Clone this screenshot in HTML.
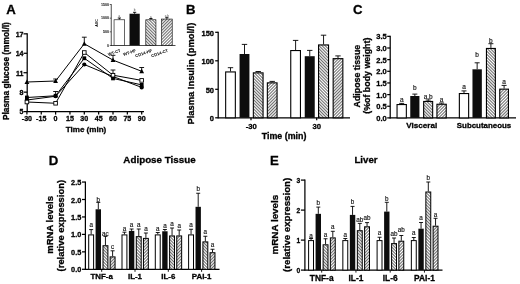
<!DOCTYPE html>
<html><head><meta charset="utf-8"><title>Figure</title>
<style>
html,body{margin:0;padding:0;background:#fff;}
body{width:520px;height:284px;overflow:hidden;}
svg{display:block;}
svg text{font-family:"Liberation Sans",Arial,sans-serif;}
svg text.b{stroke:#000;stroke-width:0.3px;}
</style></head><body>
<svg width="520" height="284" viewBox="0 0 520 284">
<defs>
<pattern id="h1" width="1.05" height="1.05" patternUnits="userSpaceOnUse" patternTransform="rotate(45)">
<rect width="1.05" height="1.05" fill="#fff"/><rect width="1.05" height="0.3" fill="#000"/></pattern>
<pattern id="h2" width="1.05" height="1.05" patternUnits="userSpaceOnUse" patternTransform="rotate(-45)">
<rect width="1.05" height="1.05" fill="#fff"/><rect width="1.05" height="0.3" fill="#000"/></pattern>
<filter id="soft" x="0" y="0" width="100%" height="100%"><feGaussianBlur stdDeviation="0.45"/></filter>
</defs>
<rect width="520" height="284" fill="#fff"/>
<g filter="url(#soft)">
<text x="6.20" y="14.03" font-size="13.2" font-weight="bold" text-anchor="start" fill="#000" class="b">A</text>
<text x="186.00" y="14.03" font-size="13.2" font-weight="bold" text-anchor="start" fill="#000" class="b">B</text>
<text x="353.00" y="14.23" font-size="13.2" font-weight="bold" text-anchor="start" fill="#000" class="b">C</text>
<text x="48.80" y="165.33" font-size="13.2" font-weight="bold" text-anchor="start" fill="#000" class="b">D</text>
<text x="270.00" y="164.73" font-size="13.2" font-weight="bold" text-anchor="start" fill="#000" class="b">E</text>
<line x1="27.20" y1="33.34" x2="27.20" y2="112.10" stroke="#000" stroke-width="1.25"/>
<line x1="26.70" y1="111.60" x2="144.00" y2="111.60" stroke="#000" stroke-width="1.25"/>
<line x1="23.50" y1="111.60" x2="27.20" y2="111.60" stroke="#000" stroke-width="1.25"/>
<text x="23.50" y="114.41" font-size="7.0" font-weight="bold" text-anchor="end" fill="#000" class="b">5</text>
<line x1="23.50" y1="92.16" x2="27.20" y2="92.16" stroke="#000" stroke-width="1.25"/>
<text x="23.50" y="94.97" font-size="7.0" font-weight="bold" text-anchor="end" fill="#000" class="b">8</text>
<line x1="23.50" y1="72.72" x2="27.20" y2="72.72" stroke="#000" stroke-width="1.25"/>
<text x="23.50" y="75.53" font-size="7.0" font-weight="bold" text-anchor="end" fill="#000" class="b">11</text>
<line x1="23.50" y1="53.28" x2="27.20" y2="53.28" stroke="#000" stroke-width="1.25"/>
<text x="23.50" y="56.09" font-size="7.0" font-weight="bold" text-anchor="end" fill="#000" class="b">14</text>
<line x1="23.50" y1="33.84" x2="27.20" y2="33.84" stroke="#000" stroke-width="1.25"/>
<text x="23.50" y="36.65" font-size="7.0" font-weight="bold" text-anchor="end" fill="#000" class="b">17</text>
<line x1="26.90" y1="111.60" x2="26.90" y2="114.60" stroke="#000" stroke-width="1.25"/>
<text x="26.90" y="121.34" font-size="7.1" font-weight="bold" text-anchor="middle" fill="#000" class="b">-30</text>
<line x1="41.25" y1="111.60" x2="41.25" y2="114.60" stroke="#000" stroke-width="1.25"/>
<text x="41.25" y="121.34" font-size="7.1" font-weight="bold" text-anchor="middle" fill="#000" class="b">-15</text>
<line x1="55.60" y1="111.60" x2="55.60" y2="114.60" stroke="#000" stroke-width="1.25"/>
<text x="55.60" y="121.34" font-size="7.1" font-weight="bold" text-anchor="middle" fill="#000" class="b">0</text>
<line x1="69.95" y1="111.60" x2="69.95" y2="114.60" stroke="#000" stroke-width="1.25"/>
<text x="69.95" y="121.34" font-size="7.1" font-weight="bold" text-anchor="middle" fill="#000" class="b">15</text>
<line x1="84.30" y1="111.60" x2="84.30" y2="114.60" stroke="#000" stroke-width="1.25"/>
<text x="84.30" y="121.34" font-size="7.1" font-weight="bold" text-anchor="middle" fill="#000" class="b">30</text>
<line x1="98.65" y1="111.60" x2="98.65" y2="114.60" stroke="#000" stroke-width="1.25"/>
<text x="98.65" y="121.34" font-size="7.1" font-weight="bold" text-anchor="middle" fill="#000" class="b">45</text>
<line x1="113.00" y1="111.60" x2="113.00" y2="114.60" stroke="#000" stroke-width="1.25"/>
<text x="113.00" y="121.34" font-size="7.1" font-weight="bold" text-anchor="middle" fill="#000" class="b">60</text>
<line x1="127.35" y1="111.60" x2="127.35" y2="114.60" stroke="#000" stroke-width="1.25"/>
<text x="127.35" y="121.34" font-size="7.1" font-weight="bold" text-anchor="middle" fill="#000" class="b">75</text>
<line x1="141.70" y1="111.60" x2="141.70" y2="114.60" stroke="#000" stroke-width="1.25"/>
<text x="141.70" y="121.34" font-size="7.1" font-weight="bold" text-anchor="middle" fill="#000" class="b">90</text>
<text x="86.00" y="132.28" font-size="8.05" font-weight="bold" text-anchor="middle" fill="#000" class="b">Time (min)</text>
<text x="-48.95" y="0" font-size="8.3" font-weight="bold" class="b" textLength="97.9" lengthAdjust="spacingAndGlyphs" transform="translate(6.30 71.15) rotate(-90) translate(0 2.97)">Plasma glucose (mmol/l)</text>
<polyline points="26.90,100.00 55.60,96.25 84.30,64.50 113.00,76.50 141.70,87.40" fill="none" stroke="#000" stroke-width="1"/>
<polyline points="26.90,97.50 55.60,95.75 84.30,58.25 113.00,78.40 141.70,84.90" fill="none" stroke="#000" stroke-width="1"/>
<line x1="55.60" y1="91.50" x2="55.60" y2="95.75" stroke="#000" stroke-width="0.9"/>
<line x1="53.20" y1="91.50" x2="58.00" y2="91.50" stroke="#000" stroke-width="0.9"/>
<polyline points="26.90,82.00 55.60,81.00 84.30,43.75 113.00,60.10 141.70,71.30" fill="none" stroke="#000" stroke-width="1"/>
<line x1="55.60" y1="79.00" x2="55.60" y2="81.00" stroke="#000" stroke-width="0.9"/>
<line x1="53.20" y1="79.00" x2="58.00" y2="79.00" stroke="#000" stroke-width="0.9"/>
<line x1="84.30" y1="37.20" x2="84.30" y2="43.75" stroke="#000" stroke-width="0.9"/>
<line x1="81.90" y1="37.20" x2="86.70" y2="37.20" stroke="#000" stroke-width="0.9"/>
<line x1="113.00" y1="55.30" x2="113.00" y2="60.10" stroke="#000" stroke-width="0.9"/>
<line x1="110.60" y1="55.30" x2="115.40" y2="55.30" stroke="#000" stroke-width="0.9"/>
<line x1="141.70" y1="67.50" x2="141.70" y2="71.30" stroke="#000" stroke-width="0.9"/>
<line x1="139.30" y1="67.50" x2="144.10" y2="67.50" stroke="#000" stroke-width="0.9"/>
<polyline points="26.90,102.00 55.60,103.25 84.30,52.50 113.00,75.20 141.70,80.40" fill="none" stroke="#000" stroke-width="1"/>
<line x1="113.00" y1="70.00" x2="113.00" y2="75.20" stroke="#000" stroke-width="0.9"/>
<line x1="110.60" y1="70.00" x2="115.40" y2="70.00" stroke="#000" stroke-width="0.9"/>
<circle cx="26.90" cy="100.00" r="2.1" fill="#000"/>
<circle cx="55.60" cy="96.25" r="2.1" fill="#000"/>
<circle cx="84.30" cy="64.50" r="2.1" fill="#000"/>
<circle cx="113.00" cy="76.50" r="2.1" fill="#000"/>
<circle cx="141.70" cy="87.40" r="2.1" fill="#000"/>
<rect x="25.00" y="95.60" width="3.8" height="3.8" fill="#000"/>
<rect x="53.70" y="93.85" width="3.8" height="3.8" fill="#000"/>
<rect x="82.40" y="56.35" width="3.8" height="3.8" fill="#000"/>
<rect x="111.10" y="76.50" width="3.8" height="3.8" fill="#000"/>
<rect x="139.80" y="83.00" width="3.8" height="3.8" fill="#000"/>
<polygon points="24.50,84.00 29.30,84.00 26.90,79.50" fill="#000"/>
<polygon points="53.20,83.00 58.00,83.00 55.60,78.50" fill="#000"/>
<polygon points="81.90,45.75 86.70,45.75 84.30,41.25" fill="#000"/>
<polygon points="110.60,62.10 115.40,62.10 113.00,57.60" fill="#000"/>
<polygon points="139.30,73.30 144.10,73.30 141.70,68.80" fill="#000"/>
<rect x="25.10" y="100.20" width="3.6" height="3.6" fill="#fff" stroke="#000" stroke-width="0.9"/>
<rect x="53.80" y="101.45" width="3.6" height="3.6" fill="#fff" stroke="#000" stroke-width="0.9"/>
<rect x="82.50" y="50.70" width="3.6" height="3.6" fill="#fff" stroke="#000" stroke-width="0.9"/>
<rect x="111.20" y="73.40" width="3.6" height="3.6" fill="#fff" stroke="#000" stroke-width="0.9"/>
<rect x="139.90" y="78.60" width="3.6" height="3.6" fill="#fff" stroke="#000" stroke-width="0.9"/>
<line x1="111.25" y1="4.20" x2="111.25" y2="45.80" stroke="#000" stroke-width="0.7"/>
<line x1="110.95" y1="45.50" x2="175.50" y2="45.50" stroke="#000" stroke-width="0.7"/>
<line x1="109.75" y1="45.50" x2="111.25" y2="45.50" stroke="#000" stroke-width="0.6"/>
<text x="109.05" y="46.79" font-size="3.6" font-weight="bold" text-anchor="end" fill="#000">0</text>
<line x1="109.75" y1="31.83" x2="111.25" y2="31.83" stroke="#000" stroke-width="0.6"/>
<text x="109.05" y="33.12" font-size="3.6" font-weight="bold" text-anchor="end" fill="#000">500</text>
<line x1="109.75" y1="18.17" x2="111.25" y2="18.17" stroke="#000" stroke-width="0.6"/>
<text x="109.05" y="19.46" font-size="3.6" font-weight="bold" text-anchor="end" fill="#000">1000</text>
<line x1="109.75" y1="4.50" x2="111.25" y2="4.50" stroke="#000" stroke-width="0.6"/>
<text x="109.05" y="5.79" font-size="3.6" font-weight="bold" text-anchor="end" fill="#000">1500</text>
<text x="0" y="0" font-size="3.5" font-weight="bold" text-anchor="middle" transform="translate(96.30 22.90) rotate(-90) translate(0 1.25)">AUC</text>
<line x1="119.38" y1="18.00" x2="119.38" y2="19.50" stroke="#000" stroke-width="0.9"/>
<line x1="117.78" y1="18.00" x2="120.97" y2="18.00" stroke="#000" stroke-width="0.9"/>
<rect x="114.05" y="19.80" width="10.65" height="25.70" fill="#fff" stroke="#000" stroke-width="0.6"/>
<text x="119.38" y="17.07" font-size="3" font-weight="normal" text-anchor="middle" fill="#444">a</text>
<text font-size="4.2" font-weight="bold" text-anchor="end" transform="translate(120.97 51.50) rotate(-20)">WT-CT</text>
<line x1="134.62" y1="12.30" x2="134.62" y2="13.75" stroke="#000" stroke-width="0.9"/>
<line x1="133.03" y1="12.30" x2="136.22" y2="12.30" stroke="#000" stroke-width="0.9"/>
<rect x="129.50" y="13.75" width="10.25" height="31.75" fill="#111"/>
<text x="134.62" y="11.37" font-size="3" font-weight="normal" text-anchor="middle" fill="#444">b</text>
<text font-size="4.2" font-weight="bold" text-anchor="end" transform="translate(136.22 51.50) rotate(-20)">WT-HF</text>
<line x1="150.88" y1="18.50" x2="150.88" y2="19.50" stroke="#000" stroke-width="0.9"/>
<line x1="149.28" y1="18.50" x2="152.47" y2="18.50" stroke="#000" stroke-width="0.9"/>
<rect x="145.80" y="19.80" width="10.15" height="25.70" fill="url(#h1)" stroke="#000" stroke-width="0.6"/>
<text x="150.88" y="17.57" font-size="3" font-weight="normal" text-anchor="middle" fill="#444">a</text>
<text font-size="4.2" font-weight="bold" text-anchor="end" transform="translate(152.47 51.50) rotate(-20)">CD14-HF</text>
<line x1="166.88" y1="17.70" x2="166.88" y2="18.75" stroke="#000" stroke-width="0.9"/>
<line x1="165.28" y1="17.70" x2="168.47" y2="17.70" stroke="#000" stroke-width="0.9"/>
<rect x="161.55" y="19.05" width="10.65" height="26.45" fill="url(#h2)" stroke="#000" stroke-width="0.6"/>
<text x="166.88" y="16.77" font-size="3" font-weight="normal" text-anchor="middle" fill="#444">a,b</text>
<text font-size="4.2" font-weight="bold" text-anchor="end" transform="translate(168.47 51.50) rotate(-20)">CD14-CT</text>
<line x1="218.20" y1="31.80" x2="218.20" y2="118.30" stroke="#000" stroke-width="1.25"/>
<line x1="217.70" y1="117.80" x2="350.00" y2="117.80" stroke="#000" stroke-width="1.25"/>
<line x1="215.20" y1="117.80" x2="218.20" y2="117.80" stroke="#000" stroke-width="1.25"/>
<text x="214.00" y="121.28" font-size="7.5" font-weight="bold" text-anchor="end" fill="#000" class="b">0</text>
<line x1="215.20" y1="89.30" x2="218.20" y2="89.30" stroke="#000" stroke-width="1.25"/>
<text x="214.00" y="92.78" font-size="7.5" font-weight="bold" text-anchor="end" fill="#000" class="b">50</text>
<line x1="215.20" y1="60.80" x2="218.20" y2="60.80" stroke="#000" stroke-width="1.25"/>
<text x="214.00" y="64.28" font-size="7.5" font-weight="bold" text-anchor="end" fill="#000" class="b">100</text>
<line x1="215.20" y1="32.30" x2="218.20" y2="32.30" stroke="#000" stroke-width="1.25"/>
<text x="214.00" y="35.78" font-size="7.5" font-weight="bold" text-anchor="end" fill="#000" class="b">150</text>
<line x1="251.00" y1="117.80" x2="251.00" y2="120.30" stroke="#000" stroke-width="1.25"/>
<text x="251.20" y="128.66" font-size="7.7" font-weight="bold" text-anchor="middle" fill="#000" class="b">-30</text>
<line x1="316.70" y1="117.80" x2="316.70" y2="120.30" stroke="#000" stroke-width="1.25"/>
<text x="316.70" y="128.66" font-size="7.7" font-weight="bold" text-anchor="middle" fill="#000" class="b">30</text>
<text x="284.10" y="139.39" font-size="8.9" font-weight="bold" text-anchor="middle" fill="#000" class="b">Time (min)</text>
<text x="-50.90" y="0" font-size="9.8" font-weight="bold" class="b" textLength="101.8" lengthAdjust="spacingAndGlyphs" transform="translate(190.30 73.60) rotate(-90) translate(0 3.51)">Plasma Insulin (pmol/l)</text>
<line x1="230.50" y1="67.70" x2="230.50" y2="71.40" stroke="#000" stroke-width="0.9"/>
<line x1="227.80" y1="67.70" x2="233.20" y2="67.70" stroke="#000" stroke-width="0.9"/>
<rect x="225.65" y="71.95" width="9.70" height="45.85" fill="#fff" stroke="#000" stroke-width="1.1"/>
<line x1="244.50" y1="44.40" x2="244.50" y2="54.00" stroke="#000" stroke-width="0.9"/>
<line x1="241.80" y1="44.40" x2="247.20" y2="44.40" stroke="#000" stroke-width="0.9"/>
<rect x="239.55" y="54.00" width="9.90" height="63.80" fill="#111"/>
<line x1="258.20" y1="71.50" x2="258.20" y2="72.30" stroke="#000" stroke-width="0.9"/>
<line x1="255.50" y1="71.50" x2="260.90" y2="71.50" stroke="#000" stroke-width="0.9"/>
<rect x="253.35" y="72.85" width="9.70" height="44.95" fill="url(#h1)" stroke="#000" stroke-width="1.1"/>
<line x1="272.20" y1="81.40" x2="272.20" y2="82.30" stroke="#000" stroke-width="0.9"/>
<line x1="269.50" y1="81.40" x2="274.90" y2="81.40" stroke="#000" stroke-width="0.9"/>
<rect x="267.35" y="82.85" width="9.70" height="34.95" fill="url(#h2)" stroke="#000" stroke-width="1.1"/>
<line x1="295.60" y1="40.40" x2="295.60" y2="50.00" stroke="#000" stroke-width="0.9"/>
<line x1="292.90" y1="40.40" x2="298.30" y2="40.40" stroke="#000" stroke-width="0.9"/>
<rect x="290.75" y="50.55" width="9.70" height="67.25" fill="#fff" stroke="#000" stroke-width="1.1"/>
<line x1="309.75" y1="50.40" x2="309.75" y2="56.20" stroke="#000" stroke-width="0.9"/>
<line x1="307.05" y1="50.40" x2="312.45" y2="50.40" stroke="#000" stroke-width="0.9"/>
<rect x="304.75" y="56.20" width="10.00" height="61.60" fill="#111"/>
<line x1="323.55" y1="35.20" x2="323.55" y2="44.40" stroke="#000" stroke-width="0.9"/>
<line x1="320.85" y1="35.20" x2="326.25" y2="35.20" stroke="#000" stroke-width="0.9"/>
<rect x="318.55" y="44.95" width="10.00" height="72.85" fill="url(#h1)" stroke="#000" stroke-width="1.1"/>
<line x1="338.00" y1="55.90" x2="338.00" y2="58.10" stroke="#000" stroke-width="0.9"/>
<line x1="335.30" y1="55.90" x2="340.70" y2="55.90" stroke="#000" stroke-width="0.9"/>
<rect x="333.15" y="58.65" width="9.70" height="59.15" fill="url(#h2)" stroke="#000" stroke-width="1.1"/>
<line x1="390.20" y1="35.85" x2="390.20" y2="118.40" stroke="#000" stroke-width="1.25"/>
<line x1="389.70" y1="117.90" x2="516.00" y2="117.90" stroke="#000" stroke-width="1.25"/>
<line x1="387.20" y1="117.90" x2="390.20" y2="117.90" stroke="#000" stroke-width="1.25"/>
<text x="376.30" y="120.96" font-size="7.7" font-weight="bold" textLength="10.50" lengthAdjust="spacingAndGlyphs" fill="#000" class="b">0.0</text>
<line x1="387.20" y1="106.25" x2="390.20" y2="106.25" stroke="#000" stroke-width="1.25"/>
<text x="376.30" y="109.31" font-size="7.7" font-weight="bold" textLength="10.50" lengthAdjust="spacingAndGlyphs" fill="#000" class="b">0.5</text>
<line x1="387.20" y1="94.60" x2="390.20" y2="94.60" stroke="#000" stroke-width="1.25"/>
<text x="376.30" y="97.66" font-size="7.7" font-weight="bold" textLength="10.50" lengthAdjust="spacingAndGlyphs" fill="#000" class="b">1.0</text>
<line x1="387.20" y1="82.95" x2="390.20" y2="82.95" stroke="#000" stroke-width="1.25"/>
<text x="376.30" y="86.01" font-size="7.7" font-weight="bold" textLength="10.50" lengthAdjust="spacingAndGlyphs" fill="#000" class="b">1.5</text>
<line x1="387.20" y1="71.30" x2="390.20" y2="71.30" stroke="#000" stroke-width="1.25"/>
<text x="376.30" y="74.36" font-size="7.7" font-weight="bold" textLength="10.50" lengthAdjust="spacingAndGlyphs" fill="#000" class="b">2.0</text>
<line x1="387.20" y1="59.65" x2="390.20" y2="59.65" stroke="#000" stroke-width="1.25"/>
<text x="376.30" y="62.71" font-size="7.7" font-weight="bold" textLength="10.50" lengthAdjust="spacingAndGlyphs" fill="#000" class="b">2.5</text>
<line x1="387.20" y1="48.00" x2="390.20" y2="48.00" stroke="#000" stroke-width="1.25"/>
<text x="376.30" y="51.06" font-size="7.7" font-weight="bold" textLength="10.50" lengthAdjust="spacingAndGlyphs" fill="#000" class="b">3.0</text>
<line x1="387.20" y1="36.35" x2="390.20" y2="36.35" stroke="#000" stroke-width="1.25"/>
<text x="376.30" y="39.41" font-size="7.7" font-weight="bold" textLength="10.50" lengthAdjust="spacingAndGlyphs" fill="#000" class="b">3.5</text>
<text x="-31.30" y="0" font-size="8.8" font-weight="bold" class="b" textLength="62.6" lengthAdjust="spacingAndGlyphs" transform="translate(356.80 76.10) rotate(-90) translate(0 3.15)">Adipose tissue</text>
<text x="-38.10" y="0" font-size="8.8" font-weight="bold" class="b" textLength="76.2" lengthAdjust="spacingAndGlyphs" transform="translate(366.60 75.70) rotate(-90) translate(0 3.15)">(%of body weight)</text>
<text x="421.75" y="128.40" font-size="8.1" font-weight="bold" text-anchor="middle" fill="#000" class="b">Visceral</text>
<text x="484.00" y="128.33" font-size="7.9" font-weight="bold" text-anchor="middle" fill="#000" class="b">Subcutaneous</text>
<line x1="401.70" y1="103.40" x2="401.70" y2="104.00" stroke="#000" stroke-width="0.9"/>
<line x1="399.20" y1="103.40" x2="404.20" y2="103.40" stroke="#000" stroke-width="0.9"/>
<rect x="397.05" y="104.55" width="9.30" height="13.35" fill="#fff" stroke="#000" stroke-width="1.1"/>
<text x="401.70" y="101.89" font-size="6.5" font-weight="normal" text-anchor="middle" fill="#111" stroke="#111" stroke-width="0.15">a</text>
<line x1="414.85" y1="94.10" x2="414.85" y2="96.00" stroke="#000" stroke-width="0.9"/>
<line x1="412.35" y1="94.10" x2="417.35" y2="94.10" stroke="#000" stroke-width="0.9"/>
<rect x="410.25" y="96.00" width="9.20" height="21.90" fill="#111"/>
<text x="414.85" y="90.33" font-size="6.5" font-weight="normal" text-anchor="middle" fill="#111" stroke="#111" stroke-width="0.15">b</text>
<line x1="428.15" y1="100.00" x2="428.15" y2="100.90" stroke="#000" stroke-width="0.9"/>
<line x1="425.65" y1="100.00" x2="430.65" y2="100.00" stroke="#000" stroke-width="0.9"/>
<rect x="423.65" y="101.45" width="9.00" height="16.45" fill="url(#h1)" stroke="#000" stroke-width="1.1"/>
<text x="428.15" y="98.63" font-size="6.5" font-weight="normal" text-anchor="middle" fill="#111" stroke="#111" stroke-width="0.15">a,b</text>
<line x1="441.60" y1="103.00" x2="441.60" y2="103.70" stroke="#000" stroke-width="0.9"/>
<line x1="439.10" y1="103.00" x2="444.10" y2="103.00" stroke="#000" stroke-width="0.9"/>
<rect x="436.95" y="104.25" width="9.30" height="13.65" fill="url(#h2)" stroke="#000" stroke-width="1.1"/>
<text x="441.60" y="101.79" font-size="6.5" font-weight="normal" text-anchor="middle" fill="#111" stroke="#111" stroke-width="0.15">a</text>
<line x1="464.00" y1="90.90" x2="464.00" y2="93.00" stroke="#000" stroke-width="0.9"/>
<line x1="461.50" y1="90.90" x2="466.50" y2="90.90" stroke="#000" stroke-width="0.9"/>
<rect x="459.35" y="93.55" width="9.30" height="24.35" fill="#fff" stroke="#000" stroke-width="1.1"/>
<text x="464.00" y="88.79" font-size="6.5" font-weight="normal" text-anchor="middle" fill="#111" stroke="#111" stroke-width="0.15">a</text>
<line x1="477.15" y1="62.80" x2="477.15" y2="69.30" stroke="#000" stroke-width="0.9"/>
<line x1="474.65" y1="62.80" x2="479.65" y2="62.80" stroke="#000" stroke-width="0.9"/>
<rect x="472.45" y="69.30" width="9.40" height="48.60" fill="#111"/>
<text x="477.15" y="57.03" font-size="6.5" font-weight="normal" text-anchor="middle" fill="#111" stroke="#111" stroke-width="0.15">b</text>
<line x1="490.90" y1="43.70" x2="490.90" y2="47.90" stroke="#000" stroke-width="0.9"/>
<line x1="488.40" y1="43.70" x2="493.40" y2="43.70" stroke="#000" stroke-width="0.9"/>
<rect x="486.45" y="48.45" width="8.90" height="69.45" fill="url(#h1)" stroke="#000" stroke-width="1.1"/>
<text x="490.90" y="42.63" font-size="6.5" font-weight="normal" text-anchor="middle" fill="#111" stroke="#111" stroke-width="0.15">b</text>
<line x1="504.10" y1="85.40" x2="504.10" y2="88.60" stroke="#000" stroke-width="0.9"/>
<line x1="501.60" y1="85.40" x2="506.60" y2="85.40" stroke="#000" stroke-width="0.9"/>
<rect x="499.75" y="89.15" width="8.70" height="28.75" fill="url(#h2)" stroke="#000" stroke-width="1.1"/>
<text x="504.10" y="83.69" font-size="6.5" font-weight="normal" text-anchor="middle" fill="#111" stroke="#111" stroke-width="0.15">a</text>
<line x1="85.40" y1="181.55" x2="85.40" y2="269.80" stroke="#000" stroke-width="1.25"/>
<line x1="84.90" y1="269.30" x2="219.50" y2="269.30" stroke="#000" stroke-width="1.25"/>
<line x1="82.00" y1="269.30" x2="85.40" y2="269.30" stroke="#000" stroke-width="1.25"/>
<text x="71.10" y="272.39" font-size="7.8" font-weight="bold" textLength="10.20" lengthAdjust="spacingAndGlyphs" fill="#000" class="b">0.0</text>
<line x1="82.00" y1="251.85" x2="85.40" y2="251.85" stroke="#000" stroke-width="1.25"/>
<text x="71.10" y="254.94" font-size="7.8" font-weight="bold" textLength="10.20" lengthAdjust="spacingAndGlyphs" fill="#000" class="b">0.5</text>
<line x1="82.00" y1="234.40" x2="85.40" y2="234.40" stroke="#000" stroke-width="1.25"/>
<text x="71.10" y="237.49" font-size="7.8" font-weight="bold" textLength="10.20" lengthAdjust="spacingAndGlyphs" fill="#000" class="b">1.0</text>
<line x1="82.00" y1="216.95" x2="85.40" y2="216.95" stroke="#000" stroke-width="1.25"/>
<text x="71.10" y="220.04" font-size="7.8" font-weight="bold" textLength="10.20" lengthAdjust="spacingAndGlyphs" fill="#000" class="b">1.5</text>
<line x1="82.00" y1="199.50" x2="85.40" y2="199.50" stroke="#000" stroke-width="1.25"/>
<text x="71.10" y="202.59" font-size="7.8" font-weight="bold" textLength="10.20" lengthAdjust="spacingAndGlyphs" fill="#000" class="b">2.0</text>
<line x1="82.00" y1="182.05" x2="85.40" y2="182.05" stroke="#000" stroke-width="1.25"/>
<text x="71.10" y="185.14" font-size="7.8" font-weight="bold" textLength="10.20" lengthAdjust="spacingAndGlyphs" fill="#000" class="b">2.5</text>
<text x="-28.85" y="0" font-size="9.3" font-weight="bold" class="b" textLength="57.7" lengthAdjust="spacingAndGlyphs" transform="translate(49.40 224.90) rotate(-90) translate(0 3.33)">mRNA levels</text>
<text x="-45.75" y="0" font-size="9.3" font-weight="bold" class="b" textLength="91.5" lengthAdjust="spacingAndGlyphs" transform="translate(60.60 225.65) rotate(-90) translate(0 3.33)">(relative expression)</text>
<text x="123.35" y="162.97" font-size="9.7" font-weight="bold" textLength="72.30" lengthAdjust="spacingAndGlyphs" fill="#000" class="b">Adipose Tissue</text>
<line x1="91.15" y1="229.60" x2="91.15" y2="234.40" stroke="#000" stroke-width="0.9"/>
<line x1="89.15" y1="229.60" x2="93.15" y2="229.60" stroke="#000" stroke-width="0.9"/>
<rect x="88.70" y="234.90" width="4.90" height="34.40" fill="#fff" stroke="#000" stroke-width="1.0"/>
<text x="91.15" y="227.44" font-size="6.3" font-weight="normal" text-anchor="middle" fill="#111" stroke="#111" stroke-width="0.15">a</text>
<line x1="98.30" y1="202.40" x2="98.30" y2="209.27" stroke="#000" stroke-width="0.9"/>
<line x1="96.30" y1="202.40" x2="100.30" y2="202.40" stroke="#000" stroke-width="0.9"/>
<rect x="95.60" y="209.27" width="5.40" height="60.03" fill="#111"/>
<text x="98.30" y="201.56" font-size="6.3" font-weight="normal" text-anchor="middle" fill="#111" stroke="#111" stroke-width="0.15">b</text>
<line x1="105.45" y1="236.40" x2="105.45" y2="245.22" stroke="#000" stroke-width="0.9"/>
<line x1="103.45" y1="236.40" x2="107.45" y2="236.40" stroke="#000" stroke-width="0.9"/>
<rect x="103.00" y="245.72" width="4.90" height="23.58" fill="url(#h1)" stroke="#000" stroke-width="1.0"/>
<text x="105.45" y="236.04" font-size="6.3" font-weight="normal" text-anchor="middle" fill="#111" stroke="#111" stroke-width="0.15">ac</text>
<line x1="112.60" y1="250.80" x2="112.60" y2="256.39" stroke="#000" stroke-width="0.9"/>
<line x1="110.60" y1="250.80" x2="114.60" y2="250.80" stroke="#000" stroke-width="0.9"/>
<rect x="110.15" y="256.89" width="4.90" height="12.41" fill="url(#h2)" stroke="#000" stroke-width="1.0"/>
<text x="112.60" y="249.34" font-size="6.3" font-weight="normal" text-anchor="middle" fill="#111" stroke="#111" stroke-width="0.15">c</text>
<line x1="101.70" y1="269.30" x2="101.70" y2="271.80" stroke="#000" stroke-width="0.9"/>
<text x="101.70" y="279.23" font-size="7.9" font-weight="bold" text-anchor="middle" fill="#000" class="b">TNF-a</text>
<line x1="124.45" y1="232.20" x2="124.45" y2="234.40" stroke="#000" stroke-width="0.9"/>
<line x1="122.45" y1="232.20" x2="126.45" y2="232.20" stroke="#000" stroke-width="0.9"/>
<rect x="122.00" y="234.90" width="4.90" height="34.40" fill="#fff" stroke="#000" stroke-width="1.0"/>
<text x="124.45" y="230.84" font-size="6.3" font-weight="normal" text-anchor="middle" fill="#111" stroke="#111" stroke-width="0.15">a</text>
<line x1="131.60" y1="229.00" x2="131.60" y2="230.91" stroke="#000" stroke-width="0.9"/>
<line x1="129.60" y1="229.00" x2="133.60" y2="229.00" stroke="#000" stroke-width="0.9"/>
<rect x="128.90" y="230.91" width="5.40" height="38.39" fill="#111"/>
<text x="131.60" y="227.44" font-size="6.3" font-weight="normal" text-anchor="middle" fill="#111" stroke="#111" stroke-width="0.15">a</text>
<line x1="138.75" y1="229.00" x2="138.75" y2="236.15" stroke="#000" stroke-width="0.9"/>
<line x1="136.75" y1="229.00" x2="140.75" y2="229.00" stroke="#000" stroke-width="0.9"/>
<rect x="136.30" y="236.65" width="4.90" height="32.66" fill="url(#h1)" stroke="#000" stroke-width="1.0"/>
<text x="138.75" y="227.44" font-size="6.3" font-weight="normal" text-anchor="middle" fill="#111" stroke="#111" stroke-width="0.15">a</text>
<line x1="145.90" y1="233.00" x2="145.90" y2="237.89" stroke="#000" stroke-width="0.9"/>
<line x1="143.90" y1="233.00" x2="147.90" y2="233.00" stroke="#000" stroke-width="0.9"/>
<rect x="143.45" y="238.39" width="4.90" height="30.91" fill="url(#h2)" stroke="#000" stroke-width="1.0"/>
<text x="145.90" y="231.24" font-size="6.3" font-weight="normal" text-anchor="middle" fill="#111" stroke="#111" stroke-width="0.15">a</text>
<line x1="135.00" y1="269.30" x2="135.00" y2="271.80" stroke="#000" stroke-width="0.9"/>
<text x="135.00" y="279.23" font-size="7.9" font-weight="bold" text-anchor="middle" fill="#000" class="b">IL-1</text>
<line x1="157.75" y1="232.50" x2="157.75" y2="234.40" stroke="#000" stroke-width="0.9"/>
<line x1="155.75" y1="232.50" x2="159.75" y2="232.50" stroke="#000" stroke-width="0.9"/>
<rect x="155.30" y="234.90" width="4.90" height="34.40" fill="#fff" stroke="#000" stroke-width="1.0"/>
<text x="157.75" y="230.84" font-size="6.3" font-weight="normal" text-anchor="middle" fill="#111" stroke="#111" stroke-width="0.15">a</text>
<line x1="164.90" y1="229.50" x2="164.90" y2="231.26" stroke="#000" stroke-width="0.9"/>
<line x1="162.90" y1="229.50" x2="166.90" y2="229.50" stroke="#000" stroke-width="0.9"/>
<rect x="162.20" y="231.26" width="5.40" height="38.04" fill="#111"/>
<text x="164.90" y="227.84" font-size="6.3" font-weight="normal" text-anchor="middle" fill="#111" stroke="#111" stroke-width="0.15">a</text>
<line x1="172.05" y1="228.00" x2="172.05" y2="235.45" stroke="#000" stroke-width="0.9"/>
<line x1="170.05" y1="228.00" x2="174.05" y2="228.00" stroke="#000" stroke-width="0.9"/>
<rect x="169.60" y="235.95" width="4.90" height="33.35" fill="url(#h1)" stroke="#000" stroke-width="1.0"/>
<text x="172.05" y="226.34" font-size="6.3" font-weight="normal" text-anchor="middle" fill="#111" stroke="#111" stroke-width="0.15">a</text>
<line x1="179.20" y1="230.00" x2="179.20" y2="235.45" stroke="#000" stroke-width="0.9"/>
<line x1="177.20" y1="230.00" x2="181.20" y2="230.00" stroke="#000" stroke-width="0.9"/>
<rect x="176.75" y="235.95" width="4.90" height="33.35" fill="url(#h2)" stroke="#000" stroke-width="1.0"/>
<text x="179.20" y="228.34" font-size="6.3" font-weight="normal" text-anchor="middle" fill="#111" stroke="#111" stroke-width="0.15">a</text>
<line x1="168.30" y1="269.30" x2="168.30" y2="271.80" stroke="#000" stroke-width="0.9"/>
<text x="168.30" y="279.23" font-size="7.9" font-weight="bold" text-anchor="middle" fill="#000" class="b">IL-6</text>
<line x1="191.05" y1="229.25" x2="191.05" y2="234.40" stroke="#000" stroke-width="0.9"/>
<line x1="189.05" y1="229.25" x2="193.05" y2="229.25" stroke="#000" stroke-width="0.9"/>
<rect x="188.60" y="234.90" width="4.90" height="34.40" fill="#fff" stroke="#000" stroke-width="1.0"/>
<text x="191.05" y="227.34" font-size="6.3" font-weight="normal" text-anchor="middle" fill="#111" stroke="#111" stroke-width="0.15">a</text>
<line x1="198.20" y1="193.25" x2="198.20" y2="206.83" stroke="#000" stroke-width="0.9"/>
<line x1="196.20" y1="193.25" x2="200.20" y2="193.25" stroke="#000" stroke-width="0.9"/>
<rect x="195.50" y="206.83" width="5.40" height="62.47" fill="#111"/>
<text x="198.20" y="190.56" font-size="6.3" font-weight="normal" text-anchor="middle" fill="#111" stroke="#111" stroke-width="0.15">b</text>
<line x1="205.35" y1="236.25" x2="205.35" y2="241.38" stroke="#000" stroke-width="0.9"/>
<line x1="203.35" y1="236.25" x2="207.35" y2="236.25" stroke="#000" stroke-width="0.9"/>
<rect x="202.90" y="241.88" width="4.90" height="27.42" fill="url(#h1)" stroke="#000" stroke-width="1.0"/>
<text x="205.35" y="234.34" font-size="6.3" font-weight="normal" text-anchor="middle" fill="#111" stroke="#111" stroke-width="0.15">a</text>
<line x1="212.50" y1="249.25" x2="212.50" y2="252.20" stroke="#000" stroke-width="0.9"/>
<line x1="210.50" y1="249.25" x2="214.50" y2="249.25" stroke="#000" stroke-width="0.9"/>
<rect x="210.05" y="252.70" width="4.90" height="16.60" fill="url(#h2)" stroke="#000" stroke-width="1.0"/>
<text x="212.50" y="247.34" font-size="6.3" font-weight="normal" text-anchor="middle" fill="#111" stroke="#111" stroke-width="0.15">a</text>
<line x1="201.60" y1="269.30" x2="201.60" y2="271.80" stroke="#000" stroke-width="0.9"/>
<text x="201.60" y="279.23" font-size="7.9" font-weight="bold" text-anchor="middle" fill="#000" class="b">PAI-1</text>
<line x1="304.90" y1="179.60" x2="304.90" y2="270.60" stroke="#000" stroke-width="1.25"/>
<line x1="304.40" y1="270.10" x2="442.50" y2="270.10" stroke="#000" stroke-width="1.25"/>
<line x1="300.90" y1="270.10" x2="304.90" y2="270.10" stroke="#000" stroke-width="1.25"/>
<text x="296.40" y="273.23" font-size="7.9" font-weight="bold" textLength="3.70" lengthAdjust="spacingAndGlyphs" fill="#000" class="b">0</text>
<line x1="300.90" y1="240.10" x2="304.90" y2="240.10" stroke="#000" stroke-width="1.25"/>
<text x="296.40" y="243.23" font-size="7.9" font-weight="bold" textLength="3.70" lengthAdjust="spacingAndGlyphs" fill="#000" class="b">1</text>
<line x1="300.90" y1="210.10" x2="304.90" y2="210.10" stroke="#000" stroke-width="1.25"/>
<text x="296.40" y="213.23" font-size="7.9" font-weight="bold" textLength="3.70" lengthAdjust="spacingAndGlyphs" fill="#000" class="b">2</text>
<line x1="300.90" y1="180.10" x2="304.90" y2="180.10" stroke="#000" stroke-width="1.25"/>
<text x="296.40" y="183.23" font-size="7.9" font-weight="bold" textLength="3.70" lengthAdjust="spacingAndGlyphs" fill="#000" class="b">3</text>
<text x="-29.95" y="0" font-size="9.6" font-weight="bold" class="b" textLength="59.9" lengthAdjust="spacingAndGlyphs" transform="translate(274.80 224.65) rotate(-90) translate(0 3.44)">mRNA levels</text>
<text x="-47.10" y="0" font-size="9.6" font-weight="bold" class="b" textLength="94.2" lengthAdjust="spacingAndGlyphs" transform="translate(286.20 224.90) rotate(-90) translate(0 3.44)">(relative expression)</text>
<text x="366.00" y="163.07" font-size="9.7" font-weight="bold" text-anchor="middle" fill="#000" class="b">Liver</text>
<line x1="311.05" y1="238.50" x2="311.05" y2="240.10" stroke="#000" stroke-width="0.9"/>
<line x1="309.05" y1="238.50" x2="313.05" y2="238.50" stroke="#000" stroke-width="0.9"/>
<rect x="308.60" y="240.60" width="4.90" height="29.50" fill="#fff" stroke="#000" stroke-width="1.0"/>
<text x="311.05" y="237.64" font-size="6.3" font-weight="normal" text-anchor="middle" fill="#111" stroke="#111" stroke-width="0.15">a</text>
<line x1="318.30" y1="207.10" x2="318.30" y2="213.85" stroke="#000" stroke-width="0.9"/>
<line x1="316.30" y1="207.10" x2="320.30" y2="207.10" stroke="#000" stroke-width="0.9"/>
<rect x="315.60" y="213.85" width="5.40" height="56.25" fill="#111"/>
<text x="318.30" y="205.26" font-size="6.3" font-weight="normal" text-anchor="middle" fill="#111" stroke="#111" stroke-width="0.15">b</text>
<line x1="325.55" y1="238.75" x2="325.55" y2="244.30" stroke="#000" stroke-width="0.9"/>
<line x1="323.55" y1="238.75" x2="327.55" y2="238.75" stroke="#000" stroke-width="0.9"/>
<rect x="323.10" y="244.80" width="4.90" height="25.30" fill="url(#h1)" stroke="#000" stroke-width="1.0"/>
<text x="325.55" y="236.54" font-size="6.3" font-weight="normal" text-anchor="middle" fill="#111" stroke="#111" stroke-width="0.15">a</text>
<line x1="332.80" y1="231.30" x2="332.80" y2="237.40" stroke="#000" stroke-width="0.9"/>
<line x1="330.80" y1="231.30" x2="334.80" y2="231.30" stroke="#000" stroke-width="0.9"/>
<rect x="330.35" y="237.90" width="4.90" height="32.20" fill="url(#h2)" stroke="#000" stroke-width="1.0"/>
<text x="332.80" y="229.04" font-size="6.3" font-weight="normal" text-anchor="middle" fill="#111" stroke="#111" stroke-width="0.15">a</text>
<line x1="321.70" y1="270.10" x2="321.70" y2="272.60" stroke="#000" stroke-width="0.9"/>
<text x="321.70" y="280.61" font-size="8.4" font-weight="bold" text-anchor="middle" fill="#000" class="b">TNF-a</text>
<line x1="345.30" y1="238.50" x2="345.30" y2="240.10" stroke="#000" stroke-width="0.9"/>
<line x1="343.30" y1="238.50" x2="347.30" y2="238.50" stroke="#000" stroke-width="0.9"/>
<rect x="342.85" y="240.60" width="4.90" height="29.50" fill="#fff" stroke="#000" stroke-width="1.0"/>
<text x="345.30" y="237.44" font-size="6.3" font-weight="normal" text-anchor="middle" fill="#111" stroke="#111" stroke-width="0.15">a</text>
<line x1="352.55" y1="206.40" x2="352.55" y2="214.90" stroke="#000" stroke-width="0.9"/>
<line x1="350.55" y1="206.40" x2="354.55" y2="206.40" stroke="#000" stroke-width="0.9"/>
<rect x="349.85" y="214.90" width="5.40" height="55.20" fill="#111"/>
<text x="352.55" y="204.46" font-size="6.3" font-weight="normal" text-anchor="middle" fill="#111" stroke="#111" stroke-width="0.15">b</text>
<line x1="359.80" y1="223.40" x2="359.80" y2="230.20" stroke="#000" stroke-width="0.9"/>
<line x1="357.80" y1="223.40" x2="361.80" y2="223.40" stroke="#000" stroke-width="0.9"/>
<rect x="357.35" y="230.70" width="4.90" height="39.40" fill="url(#h1)" stroke="#000" stroke-width="1.0"/>
<text x="359.80" y="221.86" font-size="6.3" font-weight="normal" text-anchor="middle" fill="#111" stroke="#111" stroke-width="0.15">ab</text>
<line x1="367.05" y1="222.60" x2="367.05" y2="226.30" stroke="#000" stroke-width="0.9"/>
<line x1="365.05" y1="222.60" x2="369.05" y2="222.60" stroke="#000" stroke-width="0.9"/>
<rect x="364.60" y="226.80" width="4.90" height="43.30" fill="url(#h2)" stroke="#000" stroke-width="1.0"/>
<text x="367.05" y="220.16" font-size="6.3" font-weight="normal" text-anchor="middle" fill="#111" stroke="#111" stroke-width="0.15">ab</text>
<line x1="355.95" y1="270.10" x2="355.95" y2="272.60" stroke="#000" stroke-width="0.9"/>
<text x="355.95" y="280.61" font-size="8.4" font-weight="bold" text-anchor="middle" fill="#000" class="b">IL-1</text>
<line x1="379.55" y1="237.25" x2="379.55" y2="240.10" stroke="#000" stroke-width="0.9"/>
<line x1="377.55" y1="237.25" x2="381.55" y2="237.25" stroke="#000" stroke-width="0.9"/>
<rect x="377.10" y="240.60" width="4.90" height="29.50" fill="#fff" stroke="#000" stroke-width="1.0"/>
<text x="379.55" y="235.34" font-size="6.3" font-weight="normal" text-anchor="middle" fill="#111" stroke="#111" stroke-width="0.15">a</text>
<line x1="386.80" y1="202.30" x2="386.80" y2="211.60" stroke="#000" stroke-width="0.9"/>
<line x1="384.80" y1="202.30" x2="388.80" y2="202.30" stroke="#000" stroke-width="0.9"/>
<rect x="384.10" y="211.60" width="5.40" height="58.50" fill="#111"/>
<text x="386.80" y="200.86" font-size="6.3" font-weight="normal" text-anchor="middle" fill="#111" stroke="#111" stroke-width="0.15">b</text>
<line x1="394.05" y1="238.00" x2="394.05" y2="243.10" stroke="#000" stroke-width="0.9"/>
<line x1="392.05" y1="238.00" x2="396.05" y2="238.00" stroke="#000" stroke-width="0.9"/>
<rect x="391.60" y="243.60" width="4.90" height="26.50" fill="url(#h1)" stroke="#000" stroke-width="1.0"/>
<text x="394.05" y="236.26" font-size="6.3" font-weight="normal" text-anchor="middle" fill="#111" stroke="#111" stroke-width="0.15">ab</text>
<line x1="401.30" y1="235.50" x2="401.30" y2="240.70" stroke="#000" stroke-width="0.9"/>
<line x1="399.30" y1="235.50" x2="403.30" y2="235.50" stroke="#000" stroke-width="0.9"/>
<rect x="398.85" y="241.20" width="4.90" height="28.90" fill="url(#h2)" stroke="#000" stroke-width="1.0"/>
<text x="401.30" y="232.36" font-size="6.3" font-weight="normal" text-anchor="middle" fill="#111" stroke="#111" stroke-width="0.15">ab</text>
<line x1="390.20" y1="270.10" x2="390.20" y2="272.60" stroke="#000" stroke-width="0.9"/>
<text x="390.20" y="280.61" font-size="8.4" font-weight="bold" text-anchor="middle" fill="#000" class="b">IL-6</text>
<line x1="413.80" y1="237.50" x2="413.80" y2="240.10" stroke="#000" stroke-width="0.9"/>
<line x1="411.80" y1="237.50" x2="415.80" y2="237.50" stroke="#000" stroke-width="0.9"/>
<rect x="411.35" y="240.60" width="4.90" height="29.50" fill="#fff" stroke="#000" stroke-width="1.0"/>
<text x="413.80" y="235.34" font-size="6.3" font-weight="normal" text-anchor="middle" fill="#111" stroke="#111" stroke-width="0.15">a</text>
<line x1="421.05" y1="222.50" x2="421.05" y2="228.70" stroke="#000" stroke-width="0.9"/>
<line x1="419.05" y1="222.50" x2="423.05" y2="222.50" stroke="#000" stroke-width="0.9"/>
<rect x="418.35" y="228.70" width="5.40" height="41.40" fill="#111"/>
<text x="421.05" y="220.14" font-size="6.3" font-weight="normal" text-anchor="middle" fill="#111" stroke="#111" stroke-width="0.15">a</text>
<line x1="428.30" y1="182.00" x2="428.30" y2="191.50" stroke="#000" stroke-width="0.9"/>
<line x1="426.30" y1="182.00" x2="430.30" y2="182.00" stroke="#000" stroke-width="0.9"/>
<rect x="425.85" y="192.00" width="4.90" height="78.10" fill="url(#h1)" stroke="#000" stroke-width="1.0"/>
<text x="428.30" y="180.06" font-size="6.3" font-weight="normal" text-anchor="middle" fill="#111" stroke="#111" stroke-width="0.15">b</text>
<line x1="435.55" y1="218.30" x2="435.55" y2="225.70" stroke="#000" stroke-width="0.9"/>
<line x1="433.55" y1="218.30" x2="437.55" y2="218.30" stroke="#000" stroke-width="0.9"/>
<rect x="433.10" y="226.20" width="4.90" height="43.90" fill="url(#h2)" stroke="#000" stroke-width="1.0"/>
<text x="435.55" y="216.94" font-size="6.3" font-weight="normal" text-anchor="middle" fill="#111" stroke="#111" stroke-width="0.15">a</text>
<line x1="424.45" y1="270.10" x2="424.45" y2="272.60" stroke="#000" stroke-width="0.9"/>
<text x="424.45" y="280.61" font-size="8.4" font-weight="bold" text-anchor="middle" fill="#000" class="b">PAI-1</text>
</g>
</svg>
</body></html>
